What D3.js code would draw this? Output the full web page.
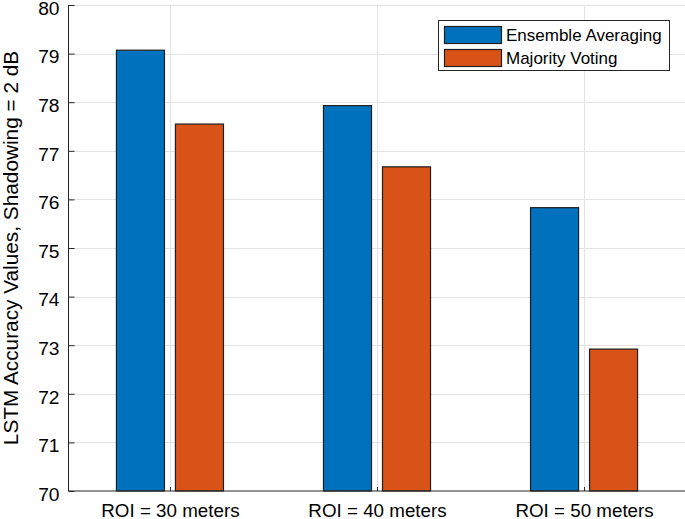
<!DOCTYPE html>
<html>
<head>
<meta charset="utf-8">
<script src="https://cdn.jsdelivr.net/npm/d3@7"></script>
<style>
  html, body { margin: 0; padding: 0; background: #fff; }
  svg { display: block; font-family: "Liberation Sans", Arial, Helvetica, sans-serif; }
</style>
</head>
<body>
<svg id="chart" width="685" height="519"></svg>
<script>
const categories = ["ROI = 30 meters", "ROI = 40 meters", "ROI = 50 meters"];
const seriesNames = ["Ensemble Averaging", "Majority Voting"];
const ensembleAveraging = [79.07, 77.93, 75.83];
const majorityVoting = [77.55, 76.67, 72.92];
const yTicks = [70, 71, 72, 73, 74, 75, 76, 77, 78, 79, 80];
const colors = ["#0072BD", "#D95319"];

(function () {
const svg = d3.select("#chart");
const pLeft = 68.5, pRight = 685.5, pTop = 5, pBottom = 491;

const x = d3.scaleLinear().domain([0.51, 3.49]).range([pLeft, pRight]);
const y = d3.scaleLinear().domain([70, 80]).range([pBottom, pTop]);

const axisColor = "#262626";
const gridColor = "#e3e3e3";

// grid
const g = svg.append("g");
g.selectAll("line.hgrid").data(yTicks.slice(1)).enter().append("line")
  .attr("x1", pLeft).attr("x2", pRight)
  .attr("y1", d => Math.round(y(d)) + 0.5).attr("y2", d => Math.round(y(d)) + 0.5)
  .attr("stroke", gridColor).attr("stroke-width", 1);
g.selectAll("line.vgrid").data(categories).enter().append("line")
  .attr("x1", (d, i) => Math.round(x(i + 1)) + 0.5).attr("x2", (d, i) => Math.round(x(i + 1)) + 0.5)
  .attr("y1", pTop).attr("y2", pBottom)
  .attr("stroke", gridColor).attr("stroke-width", 1);

// bars
const series = [ensembleAveraging, majorityVoting];
const offsets = [-0.1425, 0.1425];
const barW = x(1.232) - x(1);
series.forEach((vals, s) => {
  svg.append("g").selectAll("rect").data(vals).enter().append("rect")
    .attr("x", (d, i) => x(i + 1 + offsets[s]) - barW / 2)
    .attr("width", barW)
    .attr("y", d => y(d))
    .attr("height", d => y(70) - y(d))
    .attr("fill", colors[s])
    .attr("stroke", "#1f1f1f")
    .attr("stroke-width", 1.2);
});

// axes
const yAxis = d3.axisLeft(y).tickValues(yTicks).tickSize(-6).tickPadding(9).tickFormat(d3.format("d"));
const ya = svg.append("g").attr("transform", `translate(${pLeft},0)`).call(yAxis);
ya.select(".domain").attr("stroke", axisColor).attr("d", `M0,${pTop}V${pBottom}`);
ya.selectAll(".tick line").attr("stroke", axisColor);
ya.selectAll(".tick text").attr("fill", "#000").style("font-size", "19.2px")
  .attr("dy", "0.48em")
  .attr("font-family", "Liberation Sans, Arial, sans-serif");

const xAxis = d3.axisBottom(x).tickValues([1, 2, 3]).tickSize(-4).tickPadding(13)
  .tickFormat(d => categories[d - 1]);
const xa = svg.append("g").attr("transform", `translate(0,${pBottom})`).call(xAxis);
xa.select(".domain").attr("stroke", axisColor).attr("d", `M${pLeft},0H${pRight}`);
xa.selectAll(".tick line").attr("stroke", axisColor);
xa.selectAll(".tick text").attr("fill", "#000").style("font-size", "18.8px")
  .attr("font-family", "Liberation Sans, Arial, sans-serif");

// y label
svg.append("text")
  .attr("transform", `translate(18,${(pTop + pBottom) / 2}) rotate(-90)`)
  .attr("text-anchor", "middle")
  .style("font-size", "20.8px")
  .attr("fill", "#000")
  .text("LSTM Accuracy Values, Shadowing = 2 dB");

// legend
const lg = svg.append("g");
lg.append("rect").attr("x", 438.5).attr("y", 20.5).attr("width", 231).attr("height", 50)
  .attr("fill", "#fff").attr("stroke", axisColor).attr("stroke-width", 1);
seriesNames.forEach((name, i) => {
  lg.append("rect").attr("x", 444.5).attr("y", 26.5 + i * 23).attr("width", 57).attr("height", 17)
    .attr("fill", colors[i]).attr("stroke", "#1f1f1f").attr("stroke-width", 1.2);
  lg.append("text").attr("x", 506).attr("y", 35 + i * 23).attr("dy", "0.36em")
    .style("font-size", "17px").attr("fill", "#000").text(name);
});
})();
</script>
</body>
</html>
